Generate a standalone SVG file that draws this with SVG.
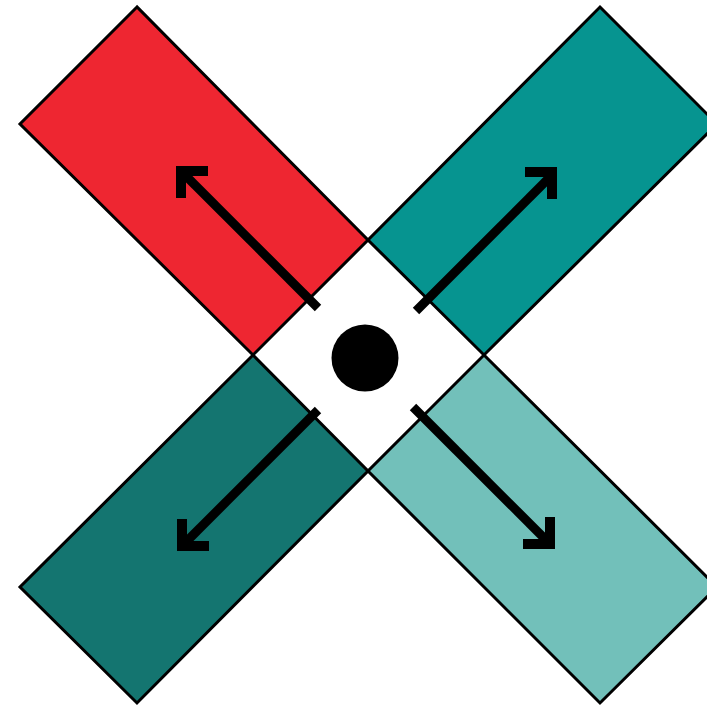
<svg xmlns="http://www.w3.org/2000/svg" width="707" height="708" viewBox="0 0 707 708">
<style>
.bar{stroke:#000;stroke-width:3;stroke-linejoin:miter}
.shaft{fill:none;stroke:#000;stroke-width:9;stroke-linecap:butt}
.head{fill:none;stroke:#000;stroke-width:10;stroke-linecap:butt;stroke-linejoin:miter;stroke-miterlimit:10}
</style>
<rect width="707" height="708" fill="#fff"/>
<g id="red"><polygon class="bar" fill="#EE2631" points="137,7 20,124 253,355 368,240"/></g>
<g id="teal"><polygon class="bar" fill="#069490" points="600,7 717,124 484,355 368,240"/></g>
<g id="darkteal"><polygon class="bar" fill="#147570" points="253,355 368,471 137,703 20,587"/></g>
<g id="lightteal"><polygon class="bar" fill="#72C0BA" points="484,355 717,587 600,703 368,471"/></g>
<g id="center"><circle cx="365" cy="358" r="33.5" fill="#000"/></g>
<g id="connectors">
<path class="shaft" d="M318,308 L183,173"/><path class="head" d="M181,198 L181,171 L208,171"/>
<path class="shaft" d="M416,311 L550,177"/><path class="head" d="M525,172 L552,172 L552,199"/>
<path class="shaft" d="M318,410 L184,544"/><path class="head" d="M182,519 L182,546 L209,546"/>
<path class="shaft" d="M413,407 L548,542"/><path class="head" d="M523,544 L550,544 L550,517"/>
</g>
</svg>
